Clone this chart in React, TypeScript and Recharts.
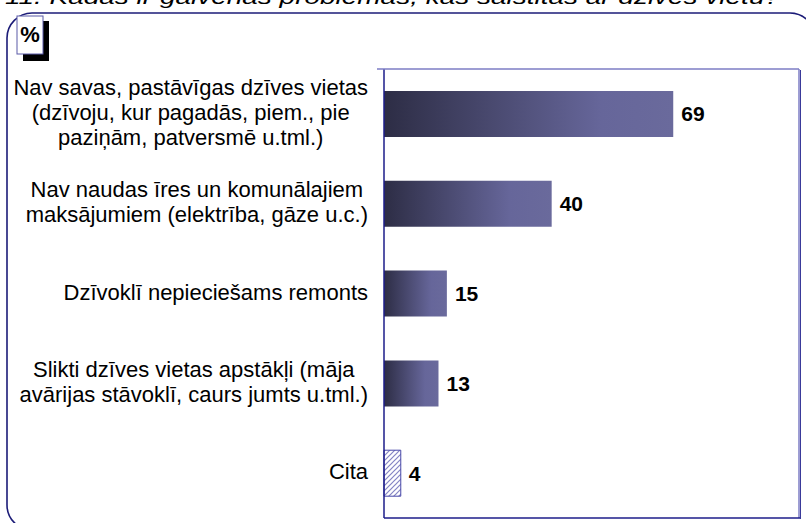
import { BarChart, Bar, XAxis, YAxis, Cell, LabelList } from 'recharts'

const TITLE = '11. Kādas ir galvenās problēmas, kas saistītas ar dzīves vietu?'

const CATEGORIES = [
  'Nav savas, pastāvīgas dzīves vietas\n(dzīvoju, kur pagadās, piem., pie\npaziņām, patversmē u.tml.)',
  'Nav naudas īres un komunālajiem\nmaksājumiem (elektrība, gāze u.c.)',
  'Dzīvoklī nepieciešams remonts',
  'Slikti dzīves vietas apstākļi (māja\navārijas stāvoklī, caurs jumts u.tml.)',
  'Cita',
]

const VALUES = [69, 40, 15, 13, 4]

const BOUNDARY_TICKS = [0, 1, 2, 3, 4, 5]

const data = CATEGORIES.map((name, i) => ({ name, value: VALUES[i] }))

const NAVY = '#1c1c8a'
const LIGHT_BORDER = '#7c7cc4'
const FONT = '"Liberation Sans", Arial, sans-serif'
const LABEL_SIZE = 22
const LABEL_RIGHT = 368
const LINE_HEIGHT = 25

let ctx: CanvasRenderingContext2D | null = null
function measure(text: string) {
  if (!ctx) {
    ctx = document.createElement('canvas').getContext('2d')
  }
  if (!ctx) return text.length * LABEL_SIZE * 0.5
  ctx.font = `${LABEL_SIZE}px "Liberation Sans"`
  return ctx.measureText(text).width
}

function CategoryTick(props: any) {
  const { y, payload } = props
  const lines: string[] = String(payload.value).split('\n')
  const widest = Math.max(...lines.map(measure))
  const cx = LABEL_RIGHT - widest / 2
  return (
    <text textAnchor="middle" fontSize={LABEL_SIZE} fontFamily={FONT} fill="#000">
      {lines.map((line, i) => (
        <tspan key={i} x={cx} y={y + 6 + (i - (lines.length - 1) / 2) * LINE_HEIGHT}>
          {line}
        </tspan>
      ))}
    </text>
  )
}

export default function App() {
  return (
    <div style={{ position: 'absolute', left: 0, top: 0, width: 806, height: 523, background: '#fff', overflow: 'hidden' }}>
      <BarChart
        width={806}
        height={523}
        data={data}
        layout="vertical"
        margin={{ top: 69, right: 7, bottom: 5, left: 0 }}
      >
        <defs>
          <linearGradient id="barGrad" x1="0" y1="0" x2="1" y2="0">
            <stop offset="0" stopColor="#2d2d45" />
            <stop offset="0.75" stopColor="#66669a" />
            <stop offset="1" stopColor="#6a6a9c" />
          </linearGradient>
          <pattern id="hatch" patternUnits="userSpaceOnUse" width="5" height="5">
            <rect width="5" height="5" fill="#fff" />
            <path d="M-1,1 L1,-1 M0,5 L5,0 M4,6 L6,4" stroke="#8484c4" strokeWidth="1.2" />
          </pattern>
        </defs>
        <XAxis type="number" domain={[0, 99]} hide />
        <YAxis
          yAxisId="grid"
          type="number"
          domain={[0, 5]}
          ticks={BOUNDARY_TICKS}
          tick={false}
          axisLine={false}
          tickLine={{ stroke: NAVY }}
          tickSize={7}
          width={0}
          allowDataOverflow
        />
        <YAxis
          type="category"
          dataKey="name"
          width={384}
          interval={0}
          tickLine={false}
          axisLine={{ stroke: NAVY, strokeWidth: 1.5 }}
          tick={<CategoryTick />}
        />
        <Bar dataKey="value" barSize={46} isAnimationActive={false}>
          {data.map((_, i) => (
            <Cell
              key={`cell-${i}`}
              fill={i === data.length - 1 ? 'url(#hatch)' : 'url(#barGrad)'}
              stroke={i === data.length - 1 ? '#4848a8' : 'none'}
              strokeWidth={1}
            />
          ))}
          <LabelList
            dataKey="value"
            position="right"
            offset={8}
            fill="#000"
            fontSize={21}
            fontWeight="bold"
            fontFamily={FONT}
          />
        </Bar>
      </BarChart>
      <svg
        width={806}
        height={523}
        style={{ position: 'absolute', left: 0, top: 0, pointerEvents: 'none' }}
      >
        <text
          x={5}
          y={4}
          fontSize={20}
          fontStyle="italic"
          fontFamily={FONT}
          fill="#000"
          textLength={775}
          lengthAdjust="spacingAndGlyphs"
        >
          {TITLE}
        </text>
        <rect x={7} y={13} width={808} height={517} rx={25} ry={25} fill="none" stroke="#1c1c78" strokeWidth={1.6} />
        <rect x={23} y={21} width={26} height={40} fill="#000" />
        <rect x={17} y={16} width={26} height={38} fill="#fff" stroke="#5a5aa8" strokeWidth={1} />
        <text x={30} y={42} textAnchor="middle" fontSize={22} fontWeight="bold" fontFamily={FONT} fill="#000">
          %
        </text>
        <line x1={377} y1={69} x2={799} y2={69} stroke={LIGHT_BORDER} strokeWidth={1.5} />
        <line x1={799} y1={69} x2={799} y2={518} stroke={LIGHT_BORDER} strokeWidth={1.5} />
        <line x1={800.5} y1={70} x2={800.5} y2={519} stroke="#3a3a9a" strokeWidth={1} />
        <line x1={384} y1={518} x2={800} y2={518} stroke={NAVY} strokeWidth={1.5} />
      </svg>
    </div>
  )
}
